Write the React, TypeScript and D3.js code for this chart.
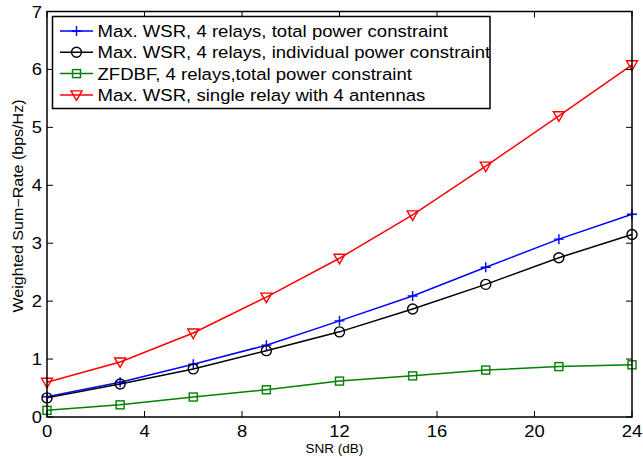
import React from "react";
import * as d3 from "d3";

const snr = [0, 3, 6, 9, 12, 15, 18, 21, 24];
const wsrTotal = [0.35, 0.6, 0.91, 1.24, 1.66, 2.09, 2.585, 3.07, 3.5];
const wsrIndividual = [0.33, 0.57, 0.83, 1.145, 1.47, 1.865, 2.29, 2.75, 3.15];
const zfdbf = [0.115, 0.21, 0.345, 0.47, 0.62, 0.71, 0.81, 0.87, 0.9];
const singleRelay = [0.6, 0.95, 1.45, 2.07, 2.74, 3.49, 4.33, 5.2, 6.08];
const xTicks = [0, 4, 8, 12, 16, 20, 24];
const yTicks = [0, 1, 2, 3, 4, 5, 6, 7];
const legendLabels = [
  "Max. WSR, 4 relays, total power constraint",
  "Max. WSR, 4 relays, individual power constraint",
  "ZFDBF, 4 relays,total power constraint",
  "Max. WSR, single relay with 4 antennas",
];

const W = 643, H = 457;
const L = 47, R = 632, T = 11.5, B = 417;
const FONT = "'Liberation Sans', Arial, Helvetica, sans-serif";

type S = { values: number[]; color: string; marker: string; label: string };
const series: S[] = [
  { values: wsrTotal, color: "#0000ff", marker: "plus", label: legendLabels[0] },
  { values: wsrIndividual, color: "#000000", marker: "circle", label: legendLabels[1] },
  { values: zfdbf, color: "#008000", marker: "square", label: legendLabels[2] },
  { values: singleRelay, color: "#ff0000", marker: "tri", label: legendLabels[3] },
];

function Marker({ type, x, y, color }: { type: string; x: number; y: number; color: string }) {
  const sw = 1.4;
  if (type === "plus")
    return (
      <path d={`M${x - 5},${y}H${x + 5}M${x},${y - 5}V${y + 5}`} stroke={color} strokeWidth={sw} fill="none" />
    );
  if (type === "circle") return <circle cx={x} cy={y} r={5} stroke={color} strokeWidth={sw} fill="none" />;
  if (type === "square")
    return <rect x={x - 4} y={y - 4} width={8} height={8} stroke={color} strokeWidth={sw} fill="none" />;
  return (
    <path d={`M${x - 5.5},${y - 4}L${x + 5.5},${y - 4}L${x},${y + 5.5}Z`} stroke={color} strokeWidth={sw} fill="none" />
  );
}

export default function App() {
  const x = d3.scaleLinear().domain([0, 24]).range([L, R]);
  const y = d3.scaleLinear().domain([0, 7]).range([B, T]);
  const line = d3
    .line<number>()
    .x((_, i) => x(snr[i]))
    .y((d) => y(d));
  const tl = 6;
  return (
    <svg width={W} height={H} style={{ position: "absolute", left: 0, top: 0, background: "#fff" }} fontFamily={FONT}>
      <rect x={0} y={0} width={W} height={H} fill="#fff" />
      {series.map((s, si) => (
        <g key={si}>
          <path d={line(s.values) || ""} stroke={s.color} strokeWidth={1.5} fill="none" />
          {s.values.map((v, i) => (
            <Marker key={i} type={s.marker} x={x(snr[i])} y={y(v)} color={s.color} />
          ))}
        </g>
      ))}
      <rect x={L} y={T} width={R - L} height={B - T} fill="none" stroke="#000" strokeWidth={1.5} />
      {xTicks.map((t) => (
        <g key={"x" + t}>
          <line x1={x(t)} x2={x(t)} y1={B} y2={B - tl} stroke="#000" strokeWidth={1} />
          <line x1={x(t)} x2={x(t)} y1={T} y2={T + tl} stroke="#000" strokeWidth={1} />
          <text transform={`translate(${x(t)},436.5) scale(1.15,1)`} textAnchor="middle" fontSize={16}>
            {t}
          </text>
        </g>
      ))}
      {yTicks.map((t) => (
        <g key={"y" + t}>
          <line x1={L} x2={L + tl} y1={y(t)} y2={y(t)} stroke="#000" strokeWidth={1} />
          <line x1={R} x2={R - tl} y1={y(t)} y2={y(t)} stroke="#000" strokeWidth={1} />
          <text transform={`translate(42,${y(t) + 6}) scale(1.15,1)`} textAnchor="end" fontSize={16}>
            {t}
          </text>
        </g>
      ))}
      <text x={334.5} y={453} textAnchor="middle" fontSize={13.5}>
        SNR (dB)
      </text>
      <text
        transform={`translate(22.5,206) rotate(-90)`}
        textAnchor="middle"
        fontSize={14}
        textLength={213}
        lengthAdjust="spacingAndGlyphs"
      >
        Weighted Sum−Rate (bps/Hz)
      </text>
      <g>
        <rect x={52.5} y={16.5} width={437.5} height={92} fill="#fff" stroke="#000" strokeWidth={1.5} />
        {series.map((s, i) => {
          const yy = 31 + i * 21.3;
          return (
            <g key={"l" + i}>
              <line x1={60} x2={93} y1={yy} y2={yy} stroke={s.color} strokeWidth={1.5} />
              <Marker type={s.marker} x={76.5} y={yy} color={s.color} />
              <text transform={`translate(97.5,${yy + 6}) scale(1.125,1)`} fontSize={16.5}>
                {s.label}
              </text>
            </g>
          );
        })}
      </g>
    </svg>
  );
}
